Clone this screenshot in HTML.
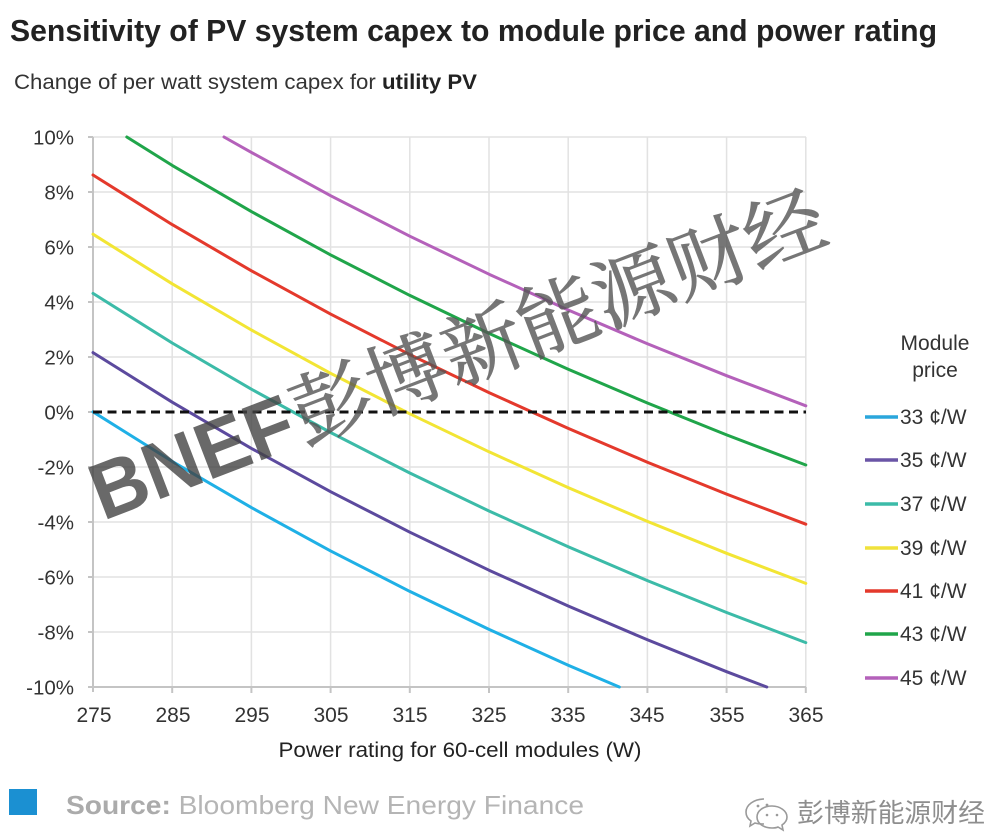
<!DOCTYPE html>
<html>
<head>
<meta charset="utf-8">
<style>
html,body{margin:0;padding:0;background:#fff;}
svg{display:block;}
</style>
</head>
<body>
<svg width="995" height="836" viewBox="0 0 995 836" xmlns="http://www.w3.org/2000/svg">
<rect width="995" height="836" fill="#fff"/>

<!-- Title -->
<text x="10" y="41" font-family="Liberation Sans, sans-serif" font-weight="bold" font-size="31" fill="#222" textLength="927" lengthAdjust="spacingAndGlyphs">Sensitivity of PV system capex to module price and power rating</text>
<text x="14" y="89" font-family="Liberation Sans, sans-serif" font-size="21.5" fill="#333" textLength="463" lengthAdjust="spacingAndGlyphs">Change of per watt system capex for <tspan font-weight="bold" fill="#222">utility PV</tspan></text>

<!-- Grid -->
<g stroke="#e2e2e2" stroke-width="1.5">
  <line x1="93" y1="137" x2="806" y2="137"/>
  <line x1="93" y1="192" x2="806" y2="192"/>
  <line x1="93" y1="247" x2="806" y2="247"/>
  <line x1="93" y1="302" x2="806" y2="302"/>
  <line x1="93" y1="357" x2="806" y2="357"/>
  <line x1="93" y1="467" x2="806" y2="467"/>
  <line x1="93" y1="522" x2="806" y2="522"/>
  <line x1="93" y1="577" x2="806" y2="577"/>
  <line x1="93" y1="632" x2="806" y2="632"/>
  <line x1="172.2" y1="137" x2="172.2" y2="687"/>
  <line x1="251.4" y1="137" x2="251.4" y2="687"/>
  <line x1="330.6" y1="137" x2="330.6" y2="687"/>
  <line x1="409.8" y1="137" x2="409.8" y2="687"/>
  <line x1="489" y1="137" x2="489" y2="687"/>
  <line x1="568.2" y1="137" x2="568.2" y2="687"/>
  <line x1="647.4" y1="137" x2="647.4" y2="687"/>
  <line x1="726.6" y1="137" x2="726.6" y2="687"/>
  <line x1="805.8" y1="137" x2="805.8" y2="687"/>
</g>
<!-- Axes -->
<g stroke="#c4c4c4" stroke-width="2">
  <line x1="93" y1="137" x2="93" y2="692"/>
  <line x1="88" y1="687" x2="806" y2="687"/>
  <line x1="88" y1="137" x2="93" y2="137"/>
  <line x1="88" y1="192" x2="93" y2="192"/>
  <line x1="88" y1="247" x2="93" y2="247"/>
  <line x1="88" y1="302" x2="93" y2="302"/>
  <line x1="88" y1="357" x2="93" y2="357"/>
  <line x1="88" y1="412" x2="93" y2="412"/>
  <line x1="88" y1="467" x2="93" y2="467"/>
  <line x1="88" y1="522" x2="93" y2="522"/>
  <line x1="88" y1="577" x2="93" y2="577"/>
  <line x1="88" y1="632" x2="93" y2="632"/>
  <line x1="172.2" y1="687" x2="172.2" y2="693"/>
  <line x1="251.4" y1="687" x2="251.4" y2="693"/>
  <line x1="330.6" y1="687" x2="330.6" y2="693"/>
  <line x1="409.8" y1="687" x2="409.8" y2="693"/>
  <line x1="489" y1="687" x2="489" y2="693"/>
  <line x1="568.2" y1="687" x2="568.2" y2="693"/>
  <line x1="647.4" y1="687" x2="647.4" y2="693"/>
  <line x1="726.6" y1="687" x2="726.6" y2="693"/>
  <line x1="805.8" y1="687" x2="805.8" y2="693"/>
</g>

<!-- Y labels -->
<g font-family="Liberation Sans, sans-serif" font-size="20.5" fill="#333" text-anchor="end">
  <text x="74" y="144.5">10%</text>
  <text x="74" y="199.5">8%</text>
  <text x="74" y="254.5">6%</text>
  <text x="74" y="309.5">4%</text>
  <text x="74" y="364.5">2%</text>
  <text x="74" y="419.5">0%</text>
  <text x="74" y="474.5">-2%</text>
  <text x="74" y="529.5">-4%</text>
  <text x="74" y="584.5">-6%</text>
  <text x="74" y="639.5">-8%</text>
  <text x="74" y="694.5">-10%</text>
</g>
<!-- X labels -->
<g font-family="Liberation Sans, sans-serif" font-size="21" fill="#333" text-anchor="middle">
  <text x="94" y="722">275</text>
  <text x="173" y="722">285</text>
  <text x="252" y="722">295</text>
  <text x="331" y="722">305</text>
  <text x="410" y="722">315</text>
  <text x="489" y="722">325</text>
  <text x="568" y="722">335</text>
  <text x="647" y="722">345</text>
  <text x="727" y="722">355</text>
  <text x="806" y="722">365</text>
</g>
<text x="460" y="757" font-family="Liberation Sans, sans-serif" font-size="21" fill="#222" text-anchor="middle" textLength="363" lengthAdjust="spacingAndGlyphs">Power rating for 60-cell modules (W)</text>

<!-- Series -->
<g fill="none" stroke-width="3" stroke-linejoin="round" stroke-linecap="round">
  <polyline stroke="#1fb0e6" points="93,411.8 172.2,461.4 251.4,507.6 330.6,550.9 409.8,591.4 489,629.4 568.2,665.2 619.3,687"/>
  <polyline stroke="#5c4a9e" points="93,352.6 172.2,402.2 251.4,448.4 330.6,491.7 409.8,532.2 489,570.2 568.2,606.0 647.4,639.8 726.6,671.7 766.8,687"/>
  <polyline stroke="#3cbba8" points="93,293.4 172.2,343.0 251.4,389.2 330.6,432.5 409.8,473.0 489,511.0 568.2,546.8 647.4,580.6 726.6,612.5 805.8,642.6"/>
  <polyline stroke="#f2e534" points="93,234.2 172.2,283.8 251.4,330.0 330.6,373.3 409.8,413.8 489,451.8 568.2,487.6 647.4,521.4 726.6,553.3 805.8,583.4"/>
  <polyline stroke="#e4392c" points="93,175.0 172.2,224.6 251.4,270.8 330.6,314.1 409.8,354.6 489,392.6 568.2,428.4 647.4,462.2 726.6,494.1 805.8,524.2"/>
  <polyline stroke="#20a54a" points="126.8,137 172.2,165.4 251.4,211.6 330.6,254.9 409.8,295.4 489,333.4 568.2,369.2 647.4,403.0 726.6,434.9 805.8,465.0"/>
  <polyline stroke="#b461ba" points="224,137 251.4,152.4 330.6,195.7 409.8,236.2 489,274.2 568.2,310.0 647.4,343.8 726.6,375.7 805.8,405.8"/>
</g>
<!-- Zero dashed line -->
<line x1="93" y1="412" x2="806" y2="412" stroke="#111" stroke-width="3" stroke-dasharray="9,5.5"/>

<!-- Watermark -->
<g transform="translate(103,521) rotate(-21)" opacity="0.8">
  <text x="0" y="0" font-family="Liberation Sans, sans-serif" font-weight="bold" font-size="80" fill="#444" textLength="212" lengthAdjust="spacingAndGlyphs">BNEF</text>
  <text x="215" y="0" font-family="Noto Serif CJK SC, Noto Sans CJK SC, serif" font-size="79" fill="#555" stroke="#555" stroke-width="0.8" textLength="566" lengthAdjust="spacingAndGlyphs">彭博新能源财经</text>
</g>

<!-- Legend -->
<g font-family="Liberation Sans, sans-serif" font-size="21" fill="#333">
  <text x="935" y="350" text-anchor="middle">Module</text>
  <text x="935" y="377" text-anchor="middle">price</text>
  <text x="900" y="424">33 ¢/W</text>
  <text x="900" y="467">35 ¢/W</text>
  <text x="900" y="511">37 ¢/W</text>
  <text x="900" y="555">39 ¢/W</text>
  <text x="900" y="598">41 ¢/W</text>
  <text x="900" y="641">43 ¢/W</text>
  <text x="900" y="685">45 ¢/W</text>
</g>
<g stroke-width="3.5">
  <line x1="865" y1="417" x2="898" y2="417" stroke="#2aa6dc"/>
  <line x1="865" y1="460" x2="898" y2="460" stroke="#6a55a6"/>
  <line x1="865" y1="504" x2="898" y2="504" stroke="#3cbba8"/>
  <line x1="865" y1="548" x2="898" y2="548" stroke="#f0e23c"/>
  <line x1="865" y1="591" x2="898" y2="591" stroke="#e4392c"/>
  <line x1="865" y1="634" x2="898" y2="634" stroke="#20a54a"/>
  <line x1="865" y1="678" x2="898" y2="678" stroke="#b461ba"/>
</g>

<!-- Source -->
<rect x="9" y="789" width="28" height="26" fill="#1b90d2"/>
<text x="66" y="814" font-family="Liberation Sans, sans-serif" font-size="26" fill="#b5b5b5" textLength="518" lengthAdjust="spacingAndGlyphs"><tspan font-weight="bold" fill="#ababab">Source:</tspan> Bloomberg New Energy Finance</text>

<!-- WeChat mark -->
<g fill="none" stroke="#9a9a9a" stroke-width="1.6">
  <path d="M764,799 c-10,0 -18,6 -18,13 c0,4 2,7 5,9 l-1,5 l5,-3 c3,1 6,1 9,1"/>
  <path d="M772,806 c-9,0 -15,5 -15,11 c0,6 6,11 15,11 c2,0 4,0 6,-1 l5,3 l-1,-5 c3,-2 5,-5 5,-8 c0,-6 -7,-11 -15,-11z"/>
</g>
<g fill="#9a9a9a">
  <circle cx="758" cy="806" r="1.4"/><circle cx="767" cy="805" r="1.4"/>
  <circle cx="767" cy="815" r="1.3"/><circle cx="777" cy="815" r="1.3"/>
</g>
<text x="797" y="822" font-family="Noto Sans CJK SC, sans-serif" font-size="26" fill="#8e8e8e" textLength="188" lengthAdjust="spacingAndGlyphs">彭博新能源财经</text>
</svg>
</body>
</html>
